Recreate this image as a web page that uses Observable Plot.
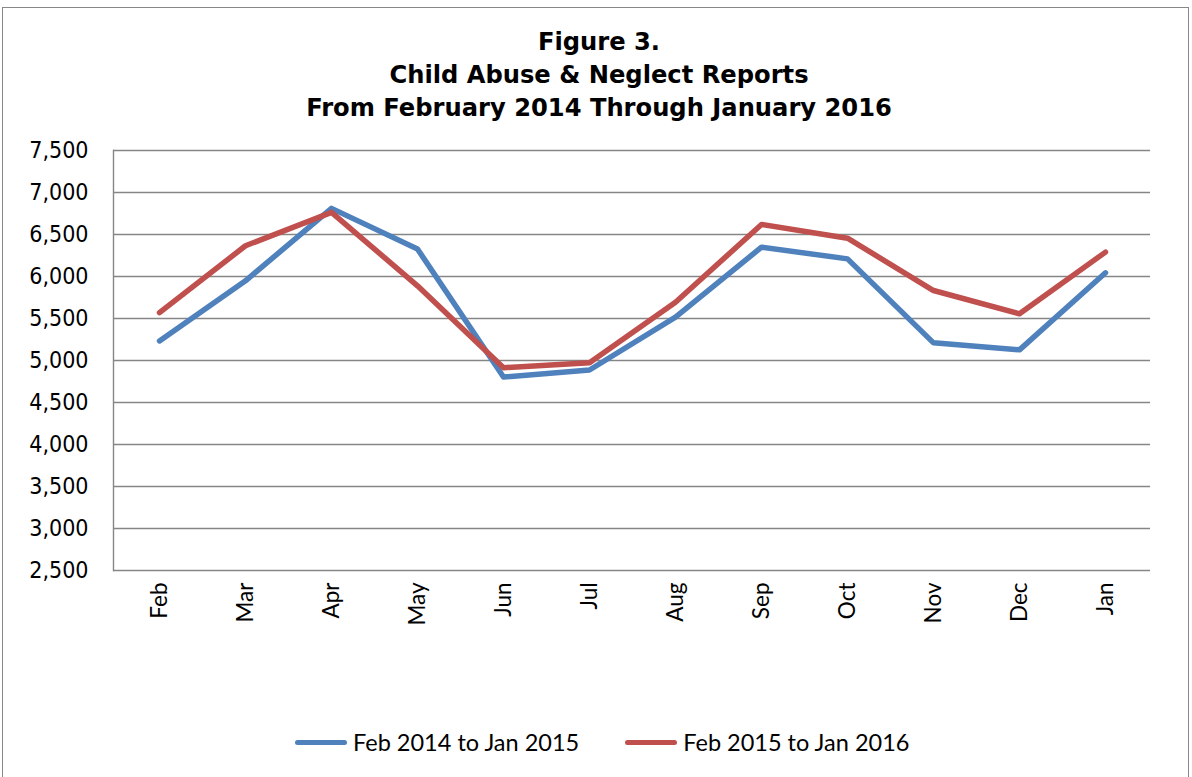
<!DOCTYPE html>
<html>
<head>
<meta charset="utf-8">
<script src="https://cdn.jsdelivr.net/npm/d3@7"></script>
<script src="https://cdn.jsdelivr.net/npm/@observablehq/plot@0.6"></script>
<style>
  html, body { margin: 0; padding: 0; background: #fff; }
  body { width: 1192px; height: 777px; overflow: hidden; position: relative; }
  #frame { position: absolute; left: 2px; top: 7px; width: 1187px; height: 790px; border: 1.5px solid #888; box-sizing: border-box; }
  #title { position: absolute; left: 0; top: 26px; width: 1198px; text-align: center; font: bold 24.2px/33px "DejaVu Sans", sans-serif; color: #000; }
  #chart { position: absolute; left: 0; top: 125px; }
  #legend { position: absolute; left: 295px; top: 727px; height: 30px; display: flex; align-items: center; font: 23.5px/30px Lato, sans-serif; color: #000; }
  .item { display: flex; align-items: center; margin-right: 46px; }
  .swatch { width: 52px; height: 5px; border-radius: 3px; margin-right: 6px; }
</style>
</head>
<body>
<div id="frame"></div>
<div id="title">Figure 3.<br>Child Abuse &amp; Neglect Reports<br>From February 2014 Through January 2016</div>
<div id="chart"></div>
<div id="legend"></div>
<script>
const months = ["Feb","Mar","Apr","May","Jun","Jul","Aug","Sep","Oct","Nov","Dec","Jan"];
const reports2014 = [5233,5949,6811,6327,4803,4887,5516,6349,6210,5210,5127,6044];
const reports2015 = [5570,6366,6764,5889,4914,4974,5694,6619,6456,5833,5556,6290];
const yTicks = [2500,3000,3500,4000,4500,5000,5500,6000,6500,7000,7500];
const seriesNames = ["Feb 2014 to Jan 2015","Feb 2015 to Jan 2016"];
const seriesColors = ["#4F81BD","#C0504D"];

const rows2014 = months.map((m, i) => ({month: m, value: reports2014[i]}));
const rows2015 = months.map((m, i) => ({month: m, value: reports2015[i]}));

const chart = Plot.plot({
  width: 1192,
  height: 525,
  marginTop: 25,
  marginBottom: 80,
  marginLeft: 113,
  marginRight: 42,
  style: { background: "transparent", color: "#000", overflow: "visible" },
  x: { type: "point", domain: months, padding: 0.5, label: null },
  y: { domain: [2500, 7500], label: null },
  marks: [
    Plot.gridY(yTicks, { stroke: "#868686", strokeOpacity: 1, strokeWidth: 1.4 }),
    Plot.frame({ anchor: "left", stroke: "#868686", strokeWidth: 1.4 }),
    Plot.line(rows2014, { x: "month", y: "value", stroke: seriesColors[0], strokeWidth: 5.5, strokeLinecap: "round", strokeLinejoin: "round" }),
    Plot.line(rows2015, { x: "month", y: "value", stroke: seriesColors[1], strokeWidth: 5.5, strokeLinecap: "round", strokeLinejoin: "round" }),
    Plot.axisY(yTicks, { tickSize: 0, tickPadding: 25, tickFormat: d3.format(","), fontSize: 23, fontFamily: "DejaVu Sans Condensed, DejaVu Sans", fill: "#000" }),
    Plot.axisX({ tickSize: 0, tickPadding: 12, tickRotate: -90, fontSize: 22.5, fontFamily: "Lato", fill: "#000" })
  ]
});
document.getElementById("chart").appendChild(chart);

const legend = document.getElementById("legend");
seriesNames.forEach((name, i) => {
  const item = document.createElement("div");
  item.className = "item";
  const sw = document.createElement("span");
  sw.className = "swatch";
  sw.style.background = seriesColors[i];
  const label = document.createElement("span");
  label.textContent = name;
  item.appendChild(sw);
  item.appendChild(label);
  legend.appendChild(item);
});
</script>
</body>
</html>
